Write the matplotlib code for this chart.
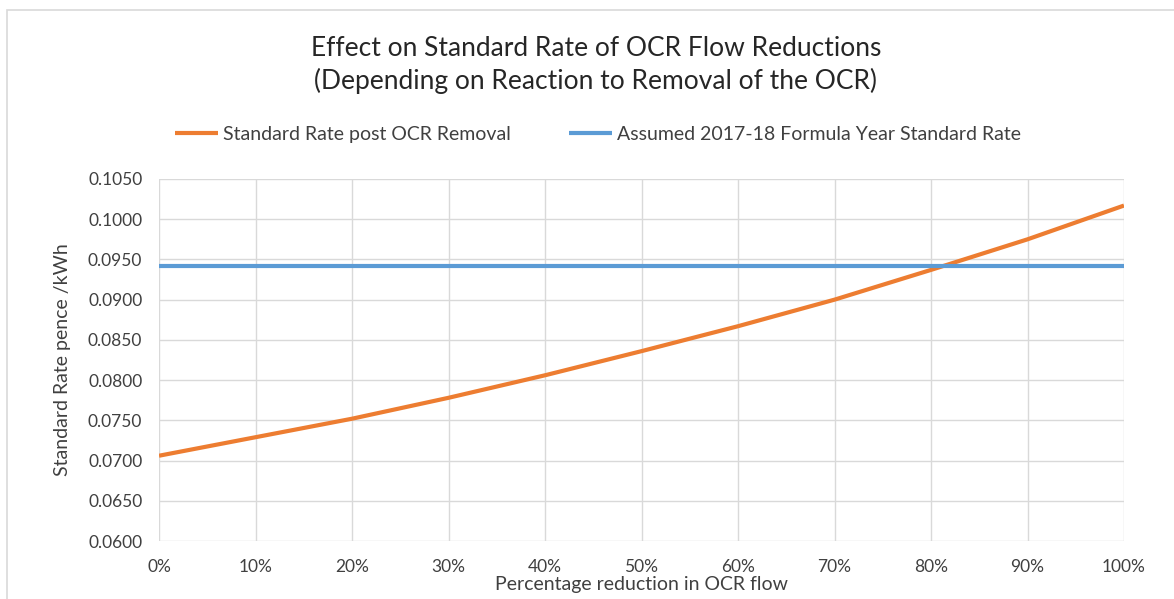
import numpy as np
import matplotlib.pyplot as plt
from matplotlib.ticker import FuncFormatter, MultipleLocator
from matplotlib.patches import Rectangle

plt.rcParams['font.family'] = ['Lato', 'DejaVu Sans']

# values
reduction = [0, 10, 20, 30, 40, 50, 60, 70, 80, 90, 100]
post_removal = [0.0706, 0.0729, 0.0752, 0.0778, 0.0806, 0.0836,
                0.0867, 0.0900, 0.0937, 0.0975, 0.1017]
assumed_rate = [0.0942] * len(reduction)

fig = plt.figure(figsize=(11.74, 5.99), dpi=100)
ax = fig.add_axes([159 / 1174, 1 - 541 / 599, (1124 - 159) / 1174, (541 - 179) / 599])

ax.plot(reduction, post_removal, color='#ED7D31', lw=3, label='Standard Rate post OCR Removal',
        solid_capstyle='butt', zorder=3)
ax.plot(reduction, assumed_rate, color='#5B9BD5', lw=3,
        label='Assumed 2017-18 Formula Year Standard Rate', solid_capstyle='butt', zorder=3)

ax.set_xlim(0, 100)
ax.set_ylim(0.06, 0.105)
ax.xaxis.set_major_locator(MultipleLocator(10))
ax.yaxis.set_major_locator(MultipleLocator(0.005))
ax.xaxis.set_major_formatter(FuncFormatter(lambda v, p: f'{v:.0f}%'))
ax.yaxis.set_major_formatter(FuncFormatter(lambda v, p: f'{v:.4f}'))
ax.grid(True, color='#D9D9D9', lw=1)
ax.set_axisbelow(True)
for s in ax.spines.values():
    s.set_visible(False)
ax.tick_params(length=0, labelsize=12.5, colors='#404040')
ax.tick_params(axis='y', pad=12)
ax.tick_params(axis='x', pad=13)

ax.set_xlabel('Percentage reduction in OCR flow', fontsize=14, color='#404040', labelpad=1)
ax.set_ylabel('Standard Rate pence /kWh', fontsize=14, color='#404040', labelpad=12)

fig.text(596 / 1174, 1 - 65 / 599,
         'Effect on Standard Rate of OCR Flow Reductions\n(Depending on Reaction to Removal of the OCR)',
         ha='center', va='center', fontsize=19, color='#262626', linespacing=1.3)

leg = ax.legend(loc='center', bbox_to_anchor=(0.455, 1.124), ncol=2, frameon=False,
                fontsize=14, handlelength=2.2, handletextpad=0.25, columnspacing=3.0)
for t in leg.get_texts():
    t.set_color('#404040')

fig.patches.append(Rectangle((7 / 1174, -0.1), 1.2, 1 - 10 / 599 + 0.1, transform=fig.transFigure,
                             fill=False, edgecolor='#D9D9D9', lw=1.2))

fig.savefig('out.png', dpi=100)
